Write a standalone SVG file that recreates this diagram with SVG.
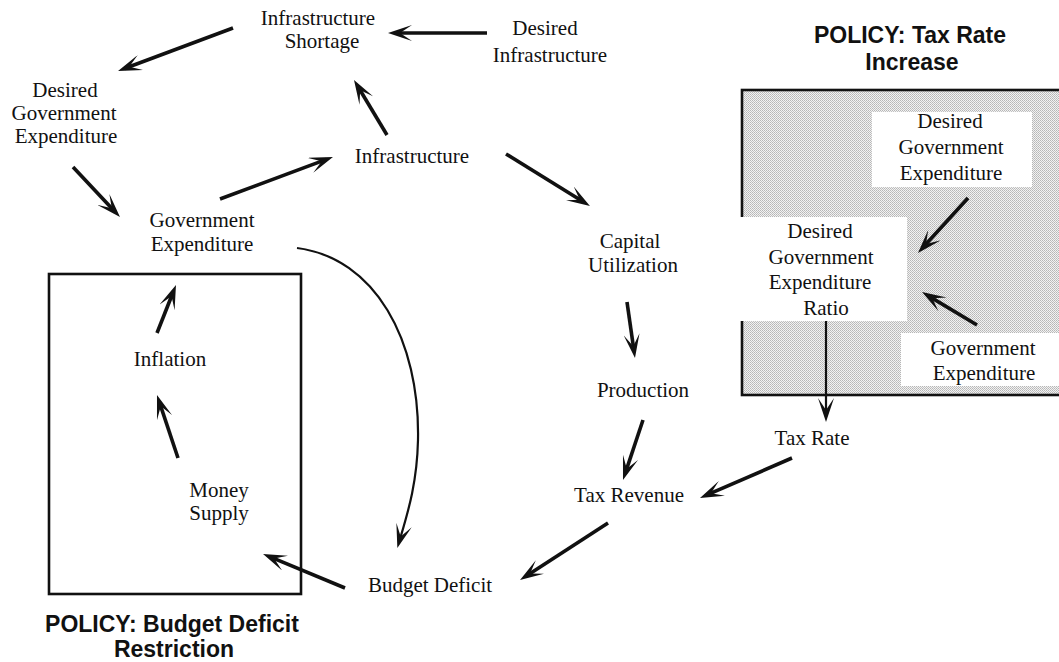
<svg xmlns="http://www.w3.org/2000/svg" width="1059" height="662" viewBox="0 0 1059 662">
<style>
.t{font-family:"Liberation Serif","Times New Roman",serif;font-size:21px;fill:#111;text-anchor:middle}
.p{font-family:"Liberation Sans",Arial,sans-serif;font-size:23px;font-weight:bold;fill:#111;text-anchor:middle}
.a{fill:none;stroke:#111;stroke-width:3.6}
.thin{fill:none;stroke:#111;stroke-width:2.2}
.box{fill:none;stroke:#111;stroke-width:2.6}
</style>
<defs>
<pattern id="dots" width="2" height="2" patternUnits="userSpaceOnUse">
<rect width="2" height="2" fill="#f2f2f2"/>
<rect width="1" height="1" fill="#b6b6b6"/>
<rect x="1" y="1" width="1" height="1" fill="#c2c2c2"/>
</pattern>
<marker id="ah" viewBox="0 0 24 16" refX="17" refY="8" markerWidth="24" markerHeight="16" orient="auto" markerUnits="userSpaceOnUse">
<path d="M24,8 L0,0 L12,8 L0,16 Z" fill="#111"/>
</marker>
</defs>
<rect width="1059" height="662" fill="#fff"/>

<g id="policy-tax">
<rect x="742" y="90" width="320" height="305" fill="url(#dots)" stroke="#111" stroke-width="2.6"/>
<text class="p" x="910" y="43">POLICY: Tax Rate</text>
<text class="p" x="912" y="70">Increase</text>
</g>
<g id="policy-deficit">
<rect class="box" x="49" y="274" width="252" height="320"/>
<text class="p" x="172" y="632">POLICY: Budget Deficit</text>
<text class="p" x="174" y="657">Restriction</text>
</g>

<g id="n-dge-right">
<rect x="872" y="112" width="160" height="75" fill="#fff"/>
<text class="t" x="950" y="128">Desired</text>
<text class="t" x="951" y="154">Government</text>
<text class="t" x="951" y="180">Expenditure</text>
</g>
<g id="n-dger">
<rect x="737" y="217" width="170" height="104" fill="#fff"/>
<text class="t" x="820" y="238">Desired</text>
<text class="t" x="821" y="264">Government</text>
<text class="t" x="820" y="289">Expenditure</text>
<text class="t" x="826" y="315">Ratio</text>
</g>
<g id="n-ge-right">
<rect x="901" y="333" width="160" height="53" fill="#fff"/>
<text class="t" x="983" y="355">Government</text>
<text class="t" x="984" y="380">Expenditure</text>
</g>

<g id="n-infra-shortage">
<text class="t" x="318" y="25">Infrastructure</text>
<text class="t" x="322" y="48">Shortage</text>
</g>
<g id="n-desired-infra">
<text class="t" x="545" y="35">Desired</text>
<text class="t" x="550" y="62">Infrastructure</text>
</g>
<g id="n-dge-left">
<text class="t" x="65" y="97">Desired</text>
<text class="t" x="64" y="120">Government</text>
<text class="t" x="66" y="143">Expenditure</text>
</g>
<g id="n-infra">
<text class="t" x="412" y="163">Infrastructure</text>
</g>
<g id="n-ge">
<text class="t" x="202" y="227">Government</text>
<text class="t" x="202" y="251">Expenditure</text>
</g>
<g id="n-capital">
<text class="t" x="630" y="248">Capital</text>
<text class="t" x="633" y="272">Utilization</text>
</g>
<g id="n-production">
<text class="t" x="643" y="397">Production</text>
</g>
<g id="n-inflation">
<text class="t" x="170" y="366">Inflation</text>
</g>
<g id="n-tax-rate">
<text class="t" x="812" y="445">Tax Rate</text>
</g>
<g id="n-tax-revenue">
<text class="t" x="629" y="502">Tax Revenue</text>
</g>
<g id="n-money">
<text class="t" x="219" y="497">Money</text>
<text class="t" x="219" y="520">Supply</text>
</g>
<g id="n-budget">
<text class="t" x="430" y="592">Budget Deficit</text>
</g>

<g id="connectors">
<line class="a" x1="233" y1="28" x2="124.6" y2="68.5" marker-end="url(#ah)"/>
<line class="a" x1="487" y1="33" x2="395" y2="33" marker-end="url(#ah)"/>
<line class="a" x1="387" y1="135" x2="357.6" y2="86" marker-end="url(#ah)"/>
<line class="a" x1="220" y1="199" x2="326.4" y2="159.4" marker-end="url(#ah)"/>
<line class="a" x1="73" y1="167" x2="115.2" y2="211.9" marker-end="url(#ah)"/>
<line class="a" x1="506" y1="154" x2="584" y2="202.3" marker-end="url(#ah)"/>
<line class="a" x1="627" y1="302" x2="634" y2="351.1" marker-end="url(#ah)"/>
<line class="a" x1="643" y1="420" x2="625.2" y2="473.4" marker-end="url(#ah)"/>
<line class="a" x1="792" y1="458" x2="706.4" y2="495.2" marker-end="url(#ah)"/>
<line class="a" x1="608" y1="523" x2="525.9" y2="576.2" marker-end="url(#ah)"/>
<line class="a" x1="345" y1="588" x2="269.5" y2="556.7" marker-end="url(#ah)"/>
<line class="a" x1="178" y1="458" x2="159.2" y2="401.6" marker-end="url(#ah)"/>
<line class="a" x1="157" y1="333" x2="173.4" y2="291.5" marker-end="url(#ah)"/>
<path class="thin" d="M297,248 C375,258 420,340 418,440 C417,485 407,515 399.3,541.4" marker-end="url(#ah)"/>
<line class="a" x1="968" y1="198" x2="922.7" y2="247.8" marker-end="url(#ah)"/>
<line class="a" x1="977" y1="325" x2="928" y2="295.6" marker-end="url(#ah)"/>
<line class="thin" x1="826" y1="321" x2="826" y2="415" marker-end="url(#ah)"/>
</g>
</svg>
